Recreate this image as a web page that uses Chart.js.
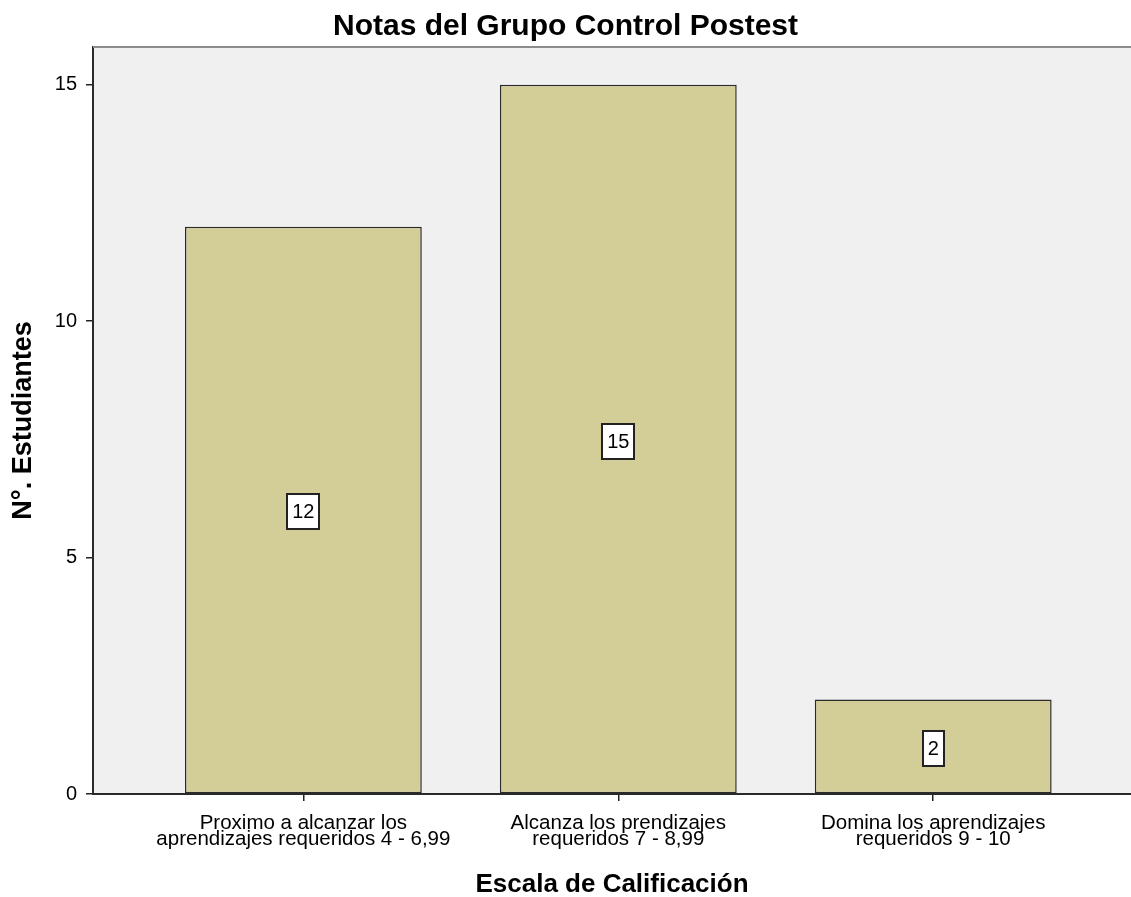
<!DOCTYPE html>
<html><head><meta charset="utf-8">
<script src="https://cdn.jsdelivr.net/npm/chart.js@4"></script>
<style>html,body{margin:0;padding:0;background:#fff}#wrap{width:1131px;height:897px;position:relative}</style>
</head><body><div id="wrap"><canvas id="c"></canvas></div>
<script>
const categories = [
  ["Proximo a alcanzar los", "aprendizajes requeridos 4 - 6,99"],
  ["Alcanza los prendizajes", "requeridos 7 - 8,99"],
  ["Domina los aprendizajes", "requeridos 9 - 10"]
];
const categoryPositions = [0, 1, 2];
const values = [12, 15, 2];
const yTicks = [0, 5, 10, 15];
const titleText = "Notas del Grupo Control Postest";
const xTitle = "Escala de Calificación";
const yTitle = "N°. Estudiantes";

const FONT = "'Liberation Sans', Arial, Helvetica, sans-serif";

const bgPlugin = {
  id: 'bg',
  beforeDraw(chart) {
    const {ctx, chartArea: a} = chart;
    ctx.save();
    ctx.fillStyle = '#f0f0f0';
    ctx.fillRect(a.left, a.top, a.right - a.left, a.bottom - a.top);
    ctx.restore();
  },
  afterDraw(chart) {
    const {ctx, chartArea: a} = chart;
    ctx.save();
    ctx.strokeStyle = '#8c8c8c';
    ctx.lineWidth = 2;
    ctx.beginPath();
    ctx.moveTo(a.left, a.top);
    ctx.lineTo(a.right, a.top);
    ctx.stroke();
    ctx.restore();
  }
};

const labelPlugin = {
  id: 'vlabels',
  afterDatasetsDraw(chart) {
    const {ctx} = chart;
    const meta = chart.getDatasetMeta(0);
    ctx.save();
    ctx.font = '20px ' + FONT;
    ctx.textAlign = 'center';
    ctx.textBaseline = 'middle';
    meta.data.forEach((bar, i) => {
      const txt = String(values[i]);
      const w = Math.round(ctx.measureText(txt).width + 10);
      const h = 35;
      const cx = bar.x;
      const cy = (bar.y + bar.base) / 2 + 2;
      const x0 = Math.round(cx - w / 2), y0 = Math.round(cy - h / 2);
      ctx.fillStyle = '#ffffff';
      ctx.fillRect(x0, y0, w, h);
      ctx.strokeStyle = '#222';
      ctx.lineWidth = 2;
      ctx.strokeRect(x0, y0, w, h);
      ctx.fillStyle = '#000';
      ctx.fillText(txt, cx, cy + 1);
    });
    ctx.restore();
  }
};

new Chart(document.getElementById('c'), {
  type: 'bar',
  data: {
    datasets: [{
      data: categoryPositions.map((p, i) => ({x: p, y: values[i]})),
      backgroundColor: '#d3ce98',
      borderColor: '#2a2a2a',
      borderWidth: 1.5,
      borderSkipped: false,
      barPercentage: 0.752,
      categoryPercentage: 1
    }]
  },
  options: {
    responsive: true,
    maintainAspectRatio: false,
    animation: false,
    layout: {padding: 0},
    plugins: {
      legend: {display: false},
      tooltip: {enabled: false},
      title: {
        display: true,
        text: titleText,
        color: '#000',
        font: {family: FONT, size: 30, weight: 'bold', lineHeight: 1.2},
        padding: {top: 9, bottom: 2}
      }
    },
    scales: {
      x: {
        type: 'linear',
        min: -0.668,
        max: 2.628,
        offset: false,
        afterBuildTicks(s) { s.ticks = categoryPositions.map(v => ({value: v})); },
        afterFit(s) { s.height = 103; },
        grid: {offset: false, drawOnChartArea: false, drawTicks: true, tickLength: 7, color: '#222', lineWidth: 1.5},
        border: {display: true, color: '#2a2a2a', width: 2},
        ticks: {
          color: '#000',
          padding: 14,
          maxRotation: 0,
          autoSkip: false,
          font: {family: FONT, size: 20.5, lineHeight: 0.78},
          callback(v) { const k = categoryPositions.indexOf(v); return k >= 0 ? categories[k] : ''; }
        },
        title: {
          display: true,
          text: xTitle,
          color: '#000',
          font: {family: FONT, size: 26, weight: 'bold', lineHeight: 0.9},
          padding: {top: 0, bottom: 0}
        }
      },
      y: {
        min: 0,
        max: 15.8,
        afterBuildTicks(s) { s.ticks = yTicks.map(v => ({value: v})); },
        afterFit(s) { s.width = 93; },
        grid: {drawOnChartArea: false, drawTicks: true, tickLength: 7, color: '#222', lineWidth: 1.5},
        border: {display: true, color: '#2a2a2a', width: 2},
        ticks: {color: '#000', padding: 9, font: {family: FONT, size: 20}},
        title: {
          display: true,
          text: yTitle,
          color: '#000',
          font: {family: FONT, size: 27, weight: 'bold', lineHeight: 1.2},
          padding: {top: 7, bottom: 0}
        }
      }
    }
  },
  plugins: [bgPlugin, labelPlugin]
});
</script>
</body></html>
